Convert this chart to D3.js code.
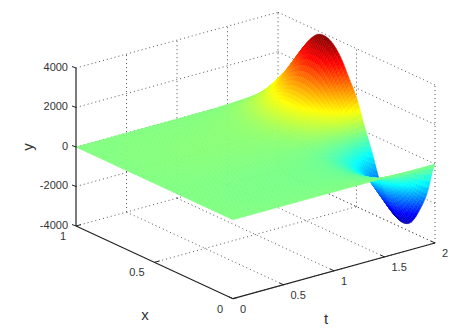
<!DOCTYPE html>
<html>
<head>
<meta charset="utf-8">
<script src="https://d3js.org/d3.v7.min.js"></script>
<style>
  html, body { margin: 0; padding: 0; background: #fff; }
  text { font-family: "Liberation Sans", Arial, sans-serif; fill: #333; }
</style>
</head>
<body>
<div id="chart"></div>
<script>
const width = 475;
const height = 336;

// Tick labels
const xTicks = [0, 0.5, 1];
const tTicks = [0, 0.5, 1, 1.5, 2];
const yTicks = [-4000, -2000, 0, 2000, 4000];

// Surface grid
const xValues = [0, .05, .1, .15, .2, .25, .3, .35, .4, .45, .5, .55, .6, .65, .7, .75, .8, .85, .9, .95, 1];
const tValues = [0, .25, .5, .75, 1, 1.1, 1.2, 1.3, 1.4, 1.5, 1.6, 1.7, 1.8, 1.9, 2];
// one row per t, one column per x
const yValues = [
  [0,0,0,0,0,0,0,0,0,0,0,0,0,0,0,0,0,0,0,0,0],
  [0,-13,-22,-28,-30,-28,-24,-18,-7,2,12,19,25,30,31,30,27,21,15,9,2],
  [0,-20,-35,-40,-45,-40,-35,-25,-10,4,20,30,40,45,45,45,40,30,20,15,4],
  [0,-25,-40,-50,-55,-50,-45,-35,-15,5,25,35,50,55,60,55,50,40,30,15,5],
  [0,-30,-50,-65,-70,-65,-55,-40,-15,5,30,45,60,70,70,70,60,50,35,20,5],
  [0,-35,-60,-75,-80,-75,-65,-50,-20,5,35,50,70,80,85,85,75,60,40,25,5],
  [0,-50,-80,-105,-110,-105,-90,-65,-25,10,45,70,95,110,115,115,100,80,55,35,10],
  [0,-65,-110,-140,-150,-140,-120,-90,-35,10,60,95,130,150,155,150,135,105,75,45,10],
  [0,-115,-190,-245,-260,-250,-210,-155,-65,20,110,165,225,260,275,265,235,185,130,75,20],
  [0,-210,-340,-435,-465,-440,-375,-275,-110,40,190,300,400,465,490,475,420,330,230,140,40],
  [0,-350,-575,-730,-780,-745,-630,-460,-190,65,325,500,670,775,820,800,700,555,390,230,65],
  [0,-550,-900,-1150,-1230,-1170,-990,-720,-300,100,510,785,1050,1220,1290,1255,1100,875,610,365,100],
  [0,-870,-1420,-1815,-1935,-1840,-1565,-1140,-470,155,800,1240,1660,1925,2030,1975,1740,1380,960,570,155],
  [0,-1300,-2130,-2720,-2900,-2760,-2350,-1710,-700,235,1200,1860,2490,2890,3040,2960,2600,2070,1440,860,235],
  [0,-1670,-2730,-3490,-3720,-3540,-3010,-2190,-900,300,1540,2380,3190,3700,3900,3800,3340,2650,1850,1100,300]
];

const svg = d3.select("#chart")
  .append("svg")
  .attr("width", width)
  .attr("height", height)
  .style("display", "block");

// Oblique axes: each data axis moves the point along its own screen direction
const tToX = d3.scaleLinear().domain([0, 2]).range([0, 202]);
const tToY = d3.scaleLinear().domain([0, 2]).range([0, -55.7]);
const xToX = d3.scaleLinear().domain([0, 1]).range([233, 76]);
const xToY = d3.scaleLinear().domain([0, 1]).range([0, -72.7]);
const yToY = d3.scaleLinear().domain([-4000, 4000]).range([298.7, 140.7]);

const project = (t, x, y) => [xToX(x) + tToX(t), yToY(y) + xToY(x) + tToY(t)];

// jet colormap
const color = d3.scaleLinear()
  .domain([-3900, -2925, -975, 975, 2925, 3900])
  .range(["#00008f", "#0000ff", "#00ffff", "#ffff00", "#ff0000", "#800000"])
  .clamp(true);

// Grid on the back walls and floor
const line = (a, b) => ({ a, b });
const grid = [];
yTicks.forEach(y => {
  grid.push(line([0, 1, y], [2, 1, y]));
  grid.push(line([2, 1, y], [2, 0, y]));
});
tTicks.slice(1).forEach(t => {
  grid.push(line([t, 1, -4000], [t, 1, 4000]));
  grid.push(line([t, 0, -4000], [t, 1, -4000]));
});
xTicks.slice(0, 2).forEach(x => {
  grid.push(line([2, x, -4000], [2, x, 4000]));
  grid.push(line([0, x, -4000], [2, x, -4000]));
});

svg.append("g")
  .selectAll("line")
  .data(grid)
  .join("line")
  .attr("x1", d => project(...d.a)[0])
  .attr("y1", d => project(...d.a)[1])
  .attr("x2", d => project(...d.b)[0])
  .attr("y2", d => project(...d.b)[1])
  .attr("stroke", "#555")
  .attr("stroke-width", 1)
  .attr("stroke-dasharray", "1 3");

// smooth shading between the grid values, like shading interp
const spline = (a, b, c, d, u) =>
  b + 0.5 * u * (c - a + u * (2 * a - 5 * b + 4 * c - d + u * (3 * (b - c) + d - a)));
const clampIdx = (i, n) => Math.max(0, Math.min(n - 1, i));
const rowAt = (i, j, v) => {
  const r = yValues[clampIdx(i, tValues.length)];
  const n = xValues.length;
  return spline(r[clampIdx(j - 1, n)], r[j], r[j + 1], r[clampIdx(j + 2, n)], v);
};

// Surface, drawn far corner first
const subT = 4;
const subX = 5;
const facets = [];
for (let i = tValues.length - 2; i >= 0; i--) {
  for (let j = xValues.length - 2; j >= 0; j--) {
    const at = (u, v) => ({
      t: tValues[i] + (tValues[i + 1] - tValues[i]) * u,
      x: xValues[j] + (xValues[j + 1] - xValues[j]) * v,
      y: spline(rowAt(i - 1, j, v), rowAt(i, j, v), rowAt(i + 1, j, v), rowAt(i + 2, j, v), u)
    });
    for (let a = subT - 1; a >= 0; a--) {
      for (let b = subX - 1; b >= 0; b--) {
        const c = [at(a / subT, b / subX), at((a + 1) / subT, b / subX),
                   at((a + 1) / subT, (b + 1) / subX), at(a / subT, (b + 1) / subX)];
        facets.push({ pts: c.map(p => project(p.t, p.x, p.y)), y: d3.mean(c, p => p.y) });
      }
    }
  }
}

svg.append("g")
  .selectAll("path")
  .data(facets)
  .join("path")
  .attr("d", d => "M" + d.pts.join("L") + "Z")
  .attr("fill", d => color(d.y))
  .attr("stroke", d => color(d.y))
  .attr("stroke-width", 0.5);

// Solid axes
const axes = [
  line([0, 1, -4000], [0, 1, 4000]),
  line([0, 1, -4000], [0, 0, -4000]),
  line([0, 0, -4000], [2, 0, -4000])
];
svg.append("g")
  .selectAll("line")
  .data(axes)
  .join("line")
  .attr("x1", d => project(...d.a)[0])
  .attr("y1", d => project(...d.a)[1])
  .attr("x2", d => project(...d.b)[0])
  .attr("y2", d => project(...d.b)[1])
  .attr("stroke", "#222")
  .attr("stroke-width", 1.2);

// y ticks
const yTickG = svg.append("g")
  .selectAll("g")
  .data(yTicks)
  .join("g")
  .attr("transform", d => `translate(${project(0, 1, d)})`);
yTickG.append("line")
  .attr("x1", -4).attr("y1", -1.5).attr("x2", 0).attr("y2", 0)
  .attr("stroke", "#222");
yTickG.append("text")
  .attr("x", -8).attr("y", -1).attr("dy", "0.35em")
  .attr("text-anchor", "end")
  .attr("font-size", 11)
  .text(d => String(d));

// x ticks
const xTickG = svg.append("g")
  .selectAll("g")
  .data(xTicks)
  .join("g")
  .attr("transform", d => `translate(${project(0, d, -4000)})`);
xTickG.append("line")
  .attr("x1", 0).attr("y1", 0).attr("x2", 5).attr("y2", -1.4)
  .attr("stroke", "#222");
xTickG.append("text")
  .attr("x", -10).attr("y", 10).attr("dy", "0.35em")
  .attr("text-anchor", "end")
  .attr("font-size", 11)
  .text(d => String(d));

// t ticks
const tTickG = svg.append("g")
  .selectAll("g")
  .data(tTicks)
  .join("g")
  .attr("transform", d => `translate(${project(d, 0, -4000)})`);
tTickG.append("line")
  .attr("x1", 0).attr("y1", 0).attr("x2", -4).attr("y2", -1.9)
  .attr("stroke", "#222");
tTickG.append("text")
  .attr("x", 7).attr("y", 10).attr("dy", "0.35em")
  .attr("text-anchor", "start")
  .attr("font-size", 11)
  .text(d => String(d));

// Axis labels
svg.append("text")
  .attr("x", 145).attr("y", 320)
  .attr("text-anchor", "middle").attr("font-size", 15)
  .text("x");
svg.append("text")
  .attr("x", 326).attr("y", 324)
  .attr("text-anchor", "middle").attr("font-size", 15)
  .text("t");
svg.append("text")
  .attr("transform", "translate(33,147) rotate(-90)")
  .attr("text-anchor", "middle").attr("font-size", 15)
  .text("y");
</script>
</body>
</html>
